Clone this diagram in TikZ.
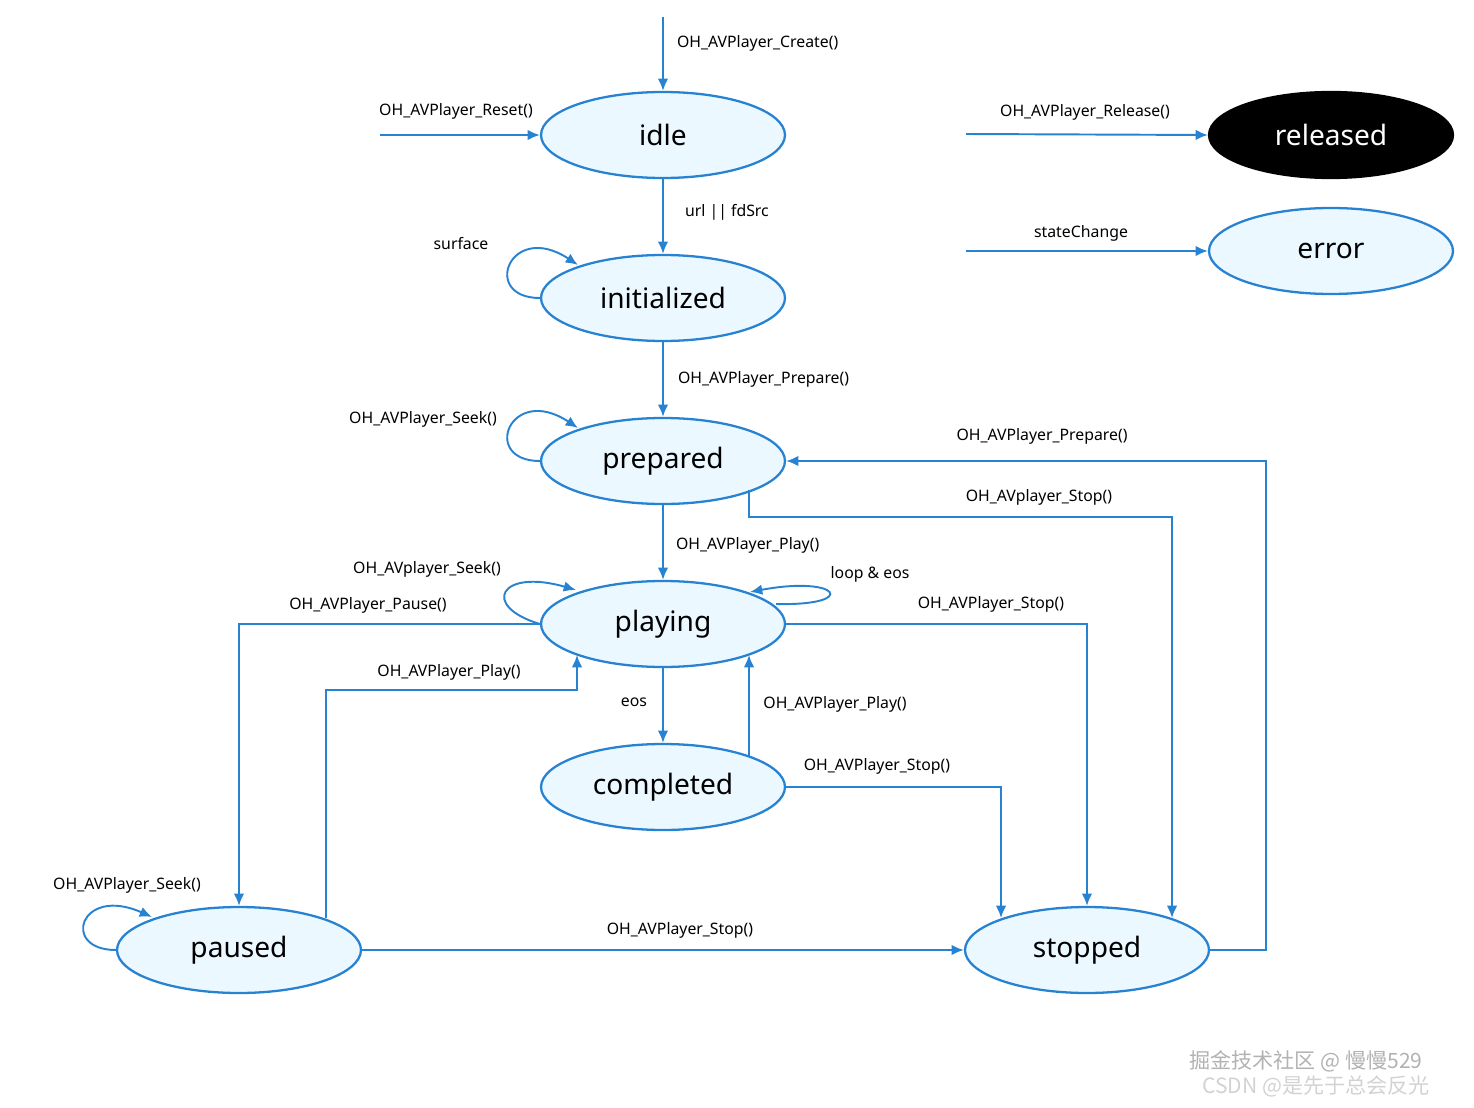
\documentclass[tikz,border=0pt]{standalone}
\usepackage{fontspec}
\setmainfont{Noto Sans}
\newfontfamily\cjk{Noto Sans CJK SC}
\usetikzlibrary{shapes.geometric,arrows.meta}
\definecolor{ln}{RGB}{40,130,210}
\definecolor{fl}{RGB}{236,248,255}
\begin{document}
\begin{tikzpicture}[x=0.02cm,y=-0.02cm,
 st/.style={ellipse,draw=ln,fill=fl,line width=1.3pt,minimum width=4.88cm,minimum height=1.72cm,inner sep=0pt,font=\fontsize{16}{18}\selectfont},
 ar/.style={draw=ln,line width=1.1pt,-{Latex[length=7pt,width=6pt]}},
 lb/.style={font=\fontsize{9}{10}\selectfont,inner sep=1pt}]
\useasboundingbox (0,0) rectangle (1474,1108);
\node[st] (idle) at (663,135) {idle};
\node[st] (init) at (663,298) {initialized};
\node[st] (prep) at (663,461) {prepared};
\node[st] (play) at (663,624) {playing};
\node[st] (comp) at (663,787) {completed};
\node[st] (paus) at (239,950) {paused};
\node[st] (stop) at (1087,950) {stopped};
\node[st,fill=black,draw=black,text=white] (rel) at (1331,135) {released};
\node[st] (err) at (1331,251) {error};
\coordinate (c0) at (663,17);
\coordinate (c1) at (380,135);
\coordinate (c2) at (966,134);
\coordinate (c3) at (966,251);
\draw[ar] (c0) -- (idle);
\draw[ar] (c1) -- (idle);
\draw[ar] (c2) -- (rel.west);
\draw[ar] (c3) -- (err.west);
\draw[ar] (idle) -- (init);
\draw[ar] (init) -- (prep);
\draw[ar] (prep) -- (play);
\draw[ar] (play) -- (comp);
\draw[ar] (init.west) .. controls (480,298) and (510,220) .. (578,265);
\draw[ar] (prep.west) .. controls (480,461) and (510,383) .. (578,428);
\draw[ar] (play.west) .. controls (480,606) and (500,568) .. (576,590);
\draw[ar] (play.east) ++(-10,-20) coordinate (pe) .. controls (860,606) and (840,575) .. (750,592);
\draw[ar] (paus.west) .. controls (60,950) and (80,885) .. (152,917);
\draw[ar] (stop.east) -- (1266,950) -- (1266,461) -- (prep.east);
\draw[ar] (749,490) -- (749,517) -- (1172,517) -- (1172,918);
\draw[ar] (play.west) -- (239,624) -- (paus.north);
\draw[ar] (326,918) -- (326,690) -- (577,690) -- (577,655);
\draw[ar] (749,757) -- (749,655);
\draw[ar] (play.east) -- (1087,624) -- (stop.north);
\draw[ar] (comp.east) -- (1001,787) -- (1001,918);
\draw[ar] (paus.east) -- (stop.west);
\node[lb,anchor=west] at (675,43) {OH\_AVPlayer\_Create()};
\node[lb] at (456,111) {OH\_AVPlayer\_Reset()};
\node[lb] at (1085,112) {OH\_AVPlayer\_Release()};
\node[lb] at (1081,233) {stateChange};
\node[lb,anchor=west] at (683,212) {url || fdSrc};
\node[lb] at (461,244) {surface};
\node[lb,anchor=west] at (676,379) {OH\_AVPlayer\_Prepare()};
\node[lb] at (423,419) {OH\_AVPlayer\_Seek()};
\node[lb] at (1042,436) {OH\_AVPlayer\_Prepare()};
\node[lb] at (1039,497) {OH\_AVplayer\_Stop()};
\node[lb,anchor=west] at (674,545) {OH\_AVPlayer\_Play()};
\node[lb] at (427,569) {OH\_AVplayer\_Seek()};
\node[lb] at (870,574) {loop \& eos};
\node[lb] at (368,605) {OH\_AVPlayer\_Pause()};
\node[lb] at (991,604) {OH\_AVPlayer\_Stop()};
\node[lb] at (449,672) {OH\_AVPlayer\_Play()};
\node[lb] at (634,702) {eos};
\node[lb] at (835,704) {OH\_AVPlayer\_Play()};
\node[lb] at (877,766) {OH\_AVPlayer\_Stop()};
\node[lb] at (127,885) {OH\_AVPlayer\_Seek()};
\node[lb] at (680,930) {OH\_AVPlayer\_Stop()};
\node[font=\cjk\fontsize{12}{13}\selectfont,text=gray!60,inner sep=0pt] at (1306,1061) {掘金技术社区 @ 慢慢529};
\node[font=\cjk\fontsize{12}{13}\selectfont,text=gray!35,inner sep=0pt] at (1316,1086) {CSDN @是先于总会反光};
\end{tikzpicture}
\end{document}
